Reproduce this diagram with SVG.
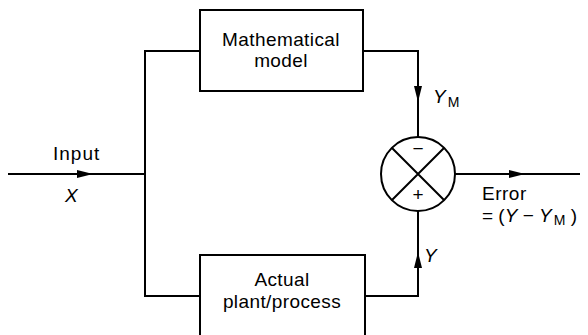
<svg xmlns="http://www.w3.org/2000/svg" width="588" height="335" viewBox="0 0 588 335">
<style>
.box{fill:#fff;stroke:#000;stroke-width:2}
.ln{fill:none;stroke:#000;stroke-width:2}
text{font-family:"Liberation Sans",Arial,sans-serif;font-size:19px;fill:#000}
.c{text-anchor:middle}
.i{font-style:italic}
.sub{font-size:14px}
</style>
<defs>
<marker id="arr" markerUnits="userSpaceOnUse" markerWidth="16" markerHeight="8" refX="16" refY="4" orient="auto">
<path d="M0,0 L16,4 L0,8 Z" fill="#000"/>
</marker>
</defs>
<g id="connectors">
<path class="ln" d="M8,174 H93" marker-end="url(#arr)"/>
<path class="ln" d="M93,174 H145"/>
<path class="ln" d="M200,51 H145 V296 H200"/>
<path class="ln" d="M363,51 H418 V102" marker-end="url(#arr)"/>
<path class="ln" d="M418,102 V137"/>
<path class="ln" d="M365,296 H418 V252" marker-end="url(#arr)"/>
<path class="ln" d="M418,252 V211"/>
<path class="ln" d="M455,174 H525" marker-end="url(#arr)"/>
<path class="ln" d="M525,174 H580"/>
</g>
<g id="model">
<rect class="box" x="200" y="10" width="163" height="81"/>
<text class="c" x="281" y="46" letter-spacing="0.4">Mathematical</text>
<text class="c" x="281" y="67" letter-spacing="0.4">model</text>
</g>
<g id="plant">
<rect class="box" x="200" y="255" width="165" height="90"/>
<text class="c" x="282" y="286" letter-spacing="0.4">Actual</text>
<text class="c" x="282" y="308" letter-spacing="0.4">plant/process</text>
</g>
<g id="comparator">
<circle class="box" cx="418" cy="174" r="37"/>
<path class="ln" d="M392,148 L444,200 M444,148 L392,200"/>
<text class="c" x="418" y="155">−</text>
<text class="c" x="418" y="201">+</text>
</g>
<g id="labels">
<text x="53" y="160" letter-spacing="1">Input</text>
<text class="i" x="65" y="202">X</text>
<text x="433" y="103"><tspan class="i">Y</tspan><tspan class="sub" dx="2" dy="4">M</tspan></text>
<text class="i" x="424" y="262">Y</text>
<text x="482" y="200" letter-spacing="0.5">Error</text>
<text x="482" y="222">= (<tspan class="i">Y</tspan> − <tspan class="i">Y</tspan><tspan class="sub" dx="2" dy="3">M</tspan><tspan dy="-3"> )</tspan></text>
</g>
</svg>
